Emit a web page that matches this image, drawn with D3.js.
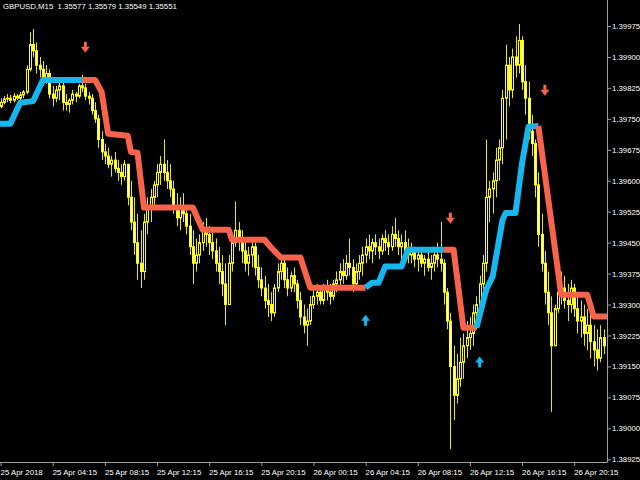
<!DOCTYPE html>
<html><head><meta charset="utf-8">
<script src="https://cdn.jsdelivr.net/npm/d3@7"></script>
<style>body{margin:0;background:#000;overflow:hidden}svg{display:block}</style>
</head><body>
<svg id="c" width="640" height="480"></svg>
<script>
const titleText = "GBPUSD,M15  1.35577 1.35579 1.35549 1.35551";
const firstOpen = 1.39780;
const closes = [
1.39790,1.39798,1.39800,1.39795,1.39805,1.39800,1.39808,1.39815,1.39870,1.39930,
1.39915,1.39880,1.39870,1.39850,1.39860,1.39810,1.39800,1.39820,1.39830,1.39790,
1.39785,1.39795,1.39810,1.39805,1.39830,1.39825,1.39805,1.39800,1.39770,1.39750,
1.39700,1.39670,1.39660,1.39640,1.39650,1.39630,1.39620,1.39610,1.39640,1.39560,
1.39500,1.39450,1.39400,1.39380,1.39500,1.39540,1.39560,1.39590,1.39620,1.39640,
1.39620,1.39600,1.39580,1.39540,1.39510,1.39540,1.39520,1.39490,1.39440,1.39400,
1.39420,1.39450,1.39480,1.39470,1.39450,1.39430,1.39400,1.39380,1.39350,1.39300,
1.39400,1.39450,1.39480,1.39460,1.39430,1.39400,1.39420,1.39440,1.39390,1.39360,
1.39340,1.39310,1.39300,1.39280,1.39340,1.39380,1.39400,1.39360,1.39340,1.39370,
1.39350,1.39310,1.39270,1.39250,1.39260,1.39300,1.39320,1.39330,1.39310,1.39340,
1.39330,1.39320,1.39350,1.39360,1.39380,1.39370,1.39400,1.39390,1.39350,1.39380,
1.39400,1.39420,1.39440,1.39430,1.39450,1.39440,1.39430,1.39460,1.39450,1.39440,
1.39470,1.39460,1.39440,1.39450,1.39430,1.39420,1.39430,1.39410,1.39420,1.39400,
1.39410,1.39390,1.39400,1.39420,1.39410,1.39400,1.39330,1.39260,1.39150,1.39080,
1.39120,1.39160,1.39200,1.39220,1.39230,1.39280,1.39300,1.39350,1.39400,1.39560,
1.39580,1.39600,1.39650,1.39680,1.39800,1.39880,1.39820,1.39900,1.39880,1.39940,
1.39840,1.39800,1.39720,1.39690,1.39590,1.39470,1.39400,1.39330,1.39280,1.39200,
1.39290,1.39330,1.39340,1.39310,1.39300,1.39340,1.39290,1.39260,1.39270,1.39230,
1.39250,1.39210,1.39190,1.39170,1.39220,1.39200];
const highs = [
1.39800,1.39805,1.39810,1.39808,1.39812,1.39810,1.39815,1.39820,1.39880,1.39960,
1.39968,1.39935,1.39900,1.39890,1.39880,1.39870,1.39830,1.39830,1.39845,1.39840,
1.39810,1.39800,1.39820,1.39815,1.39835,1.39857,1.39835,1.39815,1.39810,1.39790,
1.39760,1.39720,1.39690,1.39680,1.39660,1.39670,1.39650,1.39640,1.39650,1.39640,
1.39600,1.39560,1.39520,1.39480,1.39520,1.39560,1.39580,1.39600,1.39640,1.39660,
1.39700,1.39650,1.39640,1.39600,1.39570,1.39560,1.39570,1.39540,1.39520,1.39480,
1.39460,1.39470,1.39500,1.39510,1.39490,1.39480,1.39460,1.39440,1.39420,1.39400,
1.39420,1.39460,1.39550,1.39500,1.39480,1.39460,1.39440,1.39460,1.39450,1.39420,
1.39390,1.39370,1.39350,1.39330,1.39350,1.39400,1.39420,1.39410,1.39390,1.39380,
1.39390,1.39360,1.39330,1.39300,1.39290,1.39320,1.39340,1.39350,1.39340,1.39350,
1.39360,1.39350,1.39360,1.39380,1.39400,1.39410,1.39420,1.39460,1.39410,1.39400,
1.39420,1.39440,1.39460,1.39470,1.39460,1.39470,1.39460,1.39470,1.39480,1.39470,
1.39490,1.39510,1.39480,1.39470,1.39480,1.39460,1.39450,1.39440,1.39430,1.39440,
1.39420,1.39430,1.39420,1.39440,1.39450,1.39500,1.39410,1.39340,1.39280,1.39200,
1.39180,1.39220,1.39230,1.39260,1.39270,1.39300,1.39320,1.39370,1.39420,1.39700,
1.39600,1.39620,1.39680,1.39700,1.39820,1.39930,1.39900,1.39920,1.39950,1.39980,
1.39950,1.39880,1.39840,1.39760,1.39700,1.39620,1.39520,1.39430,1.39380,1.39320,
1.39300,1.39360,1.39380,1.39370,1.39350,1.39360,1.39350,1.39330,1.39310,1.39300,
1.39290,1.39280,1.39250,1.39240,1.39250,1.39240];
const lows = [
1.39775,1.39785,1.39790,1.39788,1.39790,1.39795,1.39795,1.39800,1.39810,1.39865,
1.39900,1.39860,1.39850,1.39830,1.39835,1.39800,1.39780,1.39790,1.39795,1.39770,
1.39770,1.39765,1.39785,1.39790,1.39800,1.39815,1.39795,1.39785,1.39760,1.39740,
1.39680,1.39650,1.39640,1.39630,1.39610,1.39620,1.39600,1.39590,1.39600,1.39540,
1.39480,1.39420,1.39360,1.39340,1.39360,1.39470,1.39500,1.39530,1.39560,1.39590,
1.39600,1.39580,1.39560,1.39520,1.39490,1.39480,1.39500,1.39470,1.39420,1.39350,
1.39380,1.39400,1.39430,1.39440,1.39420,1.39410,1.39380,1.39350,1.39320,1.39250,
1.39300,1.39380,1.39440,1.39430,1.39400,1.39380,1.39370,1.39390,1.39370,1.39340,
1.39320,1.39290,1.39270,1.39260,1.39270,1.39330,1.39360,1.39340,1.39320,1.39330,
1.39330,1.39290,1.39250,1.39230,1.39200,1.39250,1.39290,1.39300,1.39300,1.39300,
1.39310,1.39300,1.39310,1.39330,1.39340,1.39350,1.39360,1.39370,1.39330,1.39340,
1.39360,1.39370,1.39400,1.39410,1.39400,1.39420,1.39410,1.39420,1.39430,1.39420,
1.39430,1.39440,1.39420,1.39410,1.39420,1.39400,1.39400,1.39390,1.39380,1.39390,
1.39370,1.39380,1.39360,1.39380,1.39390,1.39380,1.39300,1.39240,1.38950,1.39020,
1.39060,1.39100,1.39120,1.39170,1.39190,1.39200,1.39240,1.39290,1.39330,1.39380,
1.39500,1.39520,1.39560,1.39600,1.39640,1.39700,1.39780,1.39800,1.39850,1.39860,
1.39820,1.39760,1.39700,1.39660,1.39560,1.39440,1.39380,1.39300,1.39250,1.39040,
1.39200,1.39280,1.39300,1.39290,1.39260,1.39280,1.39270,1.39230,1.39220,1.39200,
1.39190,1.39170,1.39150,1.39140,1.39160,1.39180];

// step-line indicator vertices
const lineBars = [0,3,6,10,13,25,29,31,33,39,40,42,44,59,62,70,71,81,83,86,92,95,112,114,116,118,123,125,136,139,142,146,149,151,154,155,158,160,162,165,172,180,182,185];
const lineValues = [1.39738,1.39738,1.39789,1.39793,1.39844,1.39844,1.39844,1.39815,1.39714,1.39709,1.39670,1.39668,1.39535,1.39535,1.39481,1.39481,1.39457,1.39457,1.39438,1.39414,1.39414,1.39341,1.39341,1.39353,1.39353,1.39392,1.39392,1.39433,1.39433,1.39433,1.39244,1.39244,1.39336,1.39368,1.39505,1.39522,1.39522,1.39643,1.39731,1.39733,1.39324,1.39324,1.39271,1.39271];
const trendStartBars = [0,25,112,136,146,165];
const trendNames = ["up","down","up","down","up","down"];

const downArrowBars = [26,138,167];
const downArrowPrices = [1.39922,1.39508,1.39818];
const upArrowBars = [112,147];
const upArrowPrices = [1.39263,1.39162];
const greyArrowBars = [148];
const greyArrowPrices = [1.40050];

const yTicks = [1.39975,1.39900,1.39825,1.39750,1.39675,1.39600,1.39525,1.39450,1.39375,1.39300,1.39225,1.39150,1.39075,1.39000,1.38925];
const xTickBars = [0,16,32,48,64,80,96,112,128,144,160,176];
const xTickLabels = ["25 Apr 2018","25 Apr 04:15","25 Apr 08:15","25 Apr 12:15","25 Apr 16:15","25 Apr 20:15","26 Apr 00:15","26 Apr 04:15","26 Apr 08:15","26 Apr 12:15","26 Apr 16:15","26 Apr 20:15"];

const svg = d3.select("#c");
svg.append("rect").attr("width",640).attr("height",480).attr("fill","#000");
const AX = 607, AY = 462;
const x = d3.scaleLinear().domain([0,185]).range([0.6, 0.6 + 185*3.259]);
const y = d3.scaleLinear().domain([1.38925,1.39975]).range([459.3,26]);
const FONT = "Liberation Sans, Arial, sans-serif";

const plot = svg.append("g");
// candles
const bars = closes.map((c,i)=>({i, o: i===0 ? firstOpen : closes[i-1], h: highs[i], l: lows[i], c}));
const cg = plot.append("g");
cg.selectAll("line.w").data(bars).join("line")
  .attr("x1",d=>Math.round(x(d.i))+0.5).attr("x2",d=>Math.round(x(d.i))+0.5)
  .attr("y1",d=>y(Math.max(d.h,d.o,d.c))).attr("y2",d=>y(Math.min(d.l,d.o,d.c)))
  .attr("stroke","#e8e800").attr("stroke-width",1);
cg.selectAll("rect.b").data(bars).join("rect")
  .attr("x",d=>Math.round(x(d.i))-0.5).attr("width",2)
  .attr("y",d=>y(Math.max(d.o,d.c))).attr("height",d=>Math.max(0.5,Math.abs(y(d.o)-y(d.c))))
  .attr("fill",d=>d.c<d.o ? "#ffffd8" : "#000").attr("stroke","#ffff00").attr("stroke-width",1);

// indicator line
const pts = lineBars.map((b,i)=>({b, v: lineValues[i]}));
const lineGen = d3.line().x(d=>x(d.b)).y(d=>y(d.v));
trendStartBars.forEach((s,k)=>{
  const e = k+1<trendStartBars.length ? trendStartBars[k+1] : 1e9;
  const seg = pts.filter(p=>p.b>=s && p.b<=e);
  if (k===trendStartBars.length-1) seg.push({b: x.invert(AX), v: seg[seg.length-1].v});
  if (k===0) seg.unshift({b: x.invert(-3), v: seg[0].v});
  plot.append("path").attr("d",lineGen(seg)).attr("fill","none")
    .attr("stroke", trendNames[k]==="up" ? "#16b6ee" : "#f9624b")
    .attr("stroke-width",6).attr("stroke-linejoin","round").attr("stroke-linecap","butt");
});

// arrows
const downPath = "M-1.5,-6H1.5V-1H4.5L0,5L-4.5,-1H-1.5Z";
const upPath = "M-1.5,6H1.5V1H4.5L0,-5L-4.5,1H-1.5Z";
downArrowBars.forEach((b,i)=>plot.append("path").attr("d",downPath)
  .attr("transform",`translate(${x(b)},${y(downArrowPrices[i])})`).attr("fill","#f9624b"));
upArrowBars.forEach((b,i)=>plot.append("path").attr("d",upPath)
  .attr("transform",`translate(${x(b)},${y(upArrowPrices[i])})`).attr("fill","#16b6ee"));
greyArrowBars.forEach((b,i)=>plot.append("path").attr("d",downPath)
  .attr("transform",`translate(${x(b)},${y(greyArrowPrices[i])})`).attr("fill","#8a8a8a"));

// mask area right of axis and below axis
svg.append("rect").attr("x",AX).attr("y",0).attr("width",640-AX).attr("height",480).attr("fill","#000");
svg.append("rect").attr("x",0).attr("y",AY).attr("width",640).attr("height",480-AY).attr("fill","#000");

// axes
const yAxis = d3.axisRight(y).tickValues(yTicks).tickSize(4).tickPadding(1).tickFormat(d3.format(".5f"));
const gy = svg.append("g").attr("transform",`translate(${AX},0)`).call(yAxis);
gy.select(".domain").remove();
gy.selectAll("line").attr("stroke","#a0a0a0");
gy.selectAll("text").attr("fill","#ffffff").attr("font-family",FONT).attr("font-size","7.8px");

const xAxis = d3.axisBottom(x).tickValues(xTickBars).tickSize(4).tickPadding(3).tickFormat((d,i)=>xTickLabels[i]);
const gx = svg.append("g").attr("transform",`translate(0,${AY})`).call(xAxis);
gx.select(".domain").remove();
gx.selectAll("line").attr("stroke","#a0a0a0");
gx.selectAll("text").attr("fill","#ffffff").attr("font-family",FONT).attr("font-size","7.8px")
  .attr("text-anchor","start").attr("x",-0.5);

svg.append("line").attr("x1",AX+0.5).attr("x2",AX+0.5).attr("y1",0).attr("y2",AY+0.5).attr("stroke","#a0a0a0");
svg.append("line").attr("x1",0).attr("x2",AX+0.5).attr("y1",AY+0.5).attr("y2",AY+0.5).attr("stroke","#a0a0a0");

svg.append("text").attr("x",3).attr("y",9).attr("fill","#ffffff").attr("font-family",FONT)
  .attr("font-size","7.8px").attr("xml:space","preserve").style("white-space","pre").text(titleText);
</script>
</body></html>
